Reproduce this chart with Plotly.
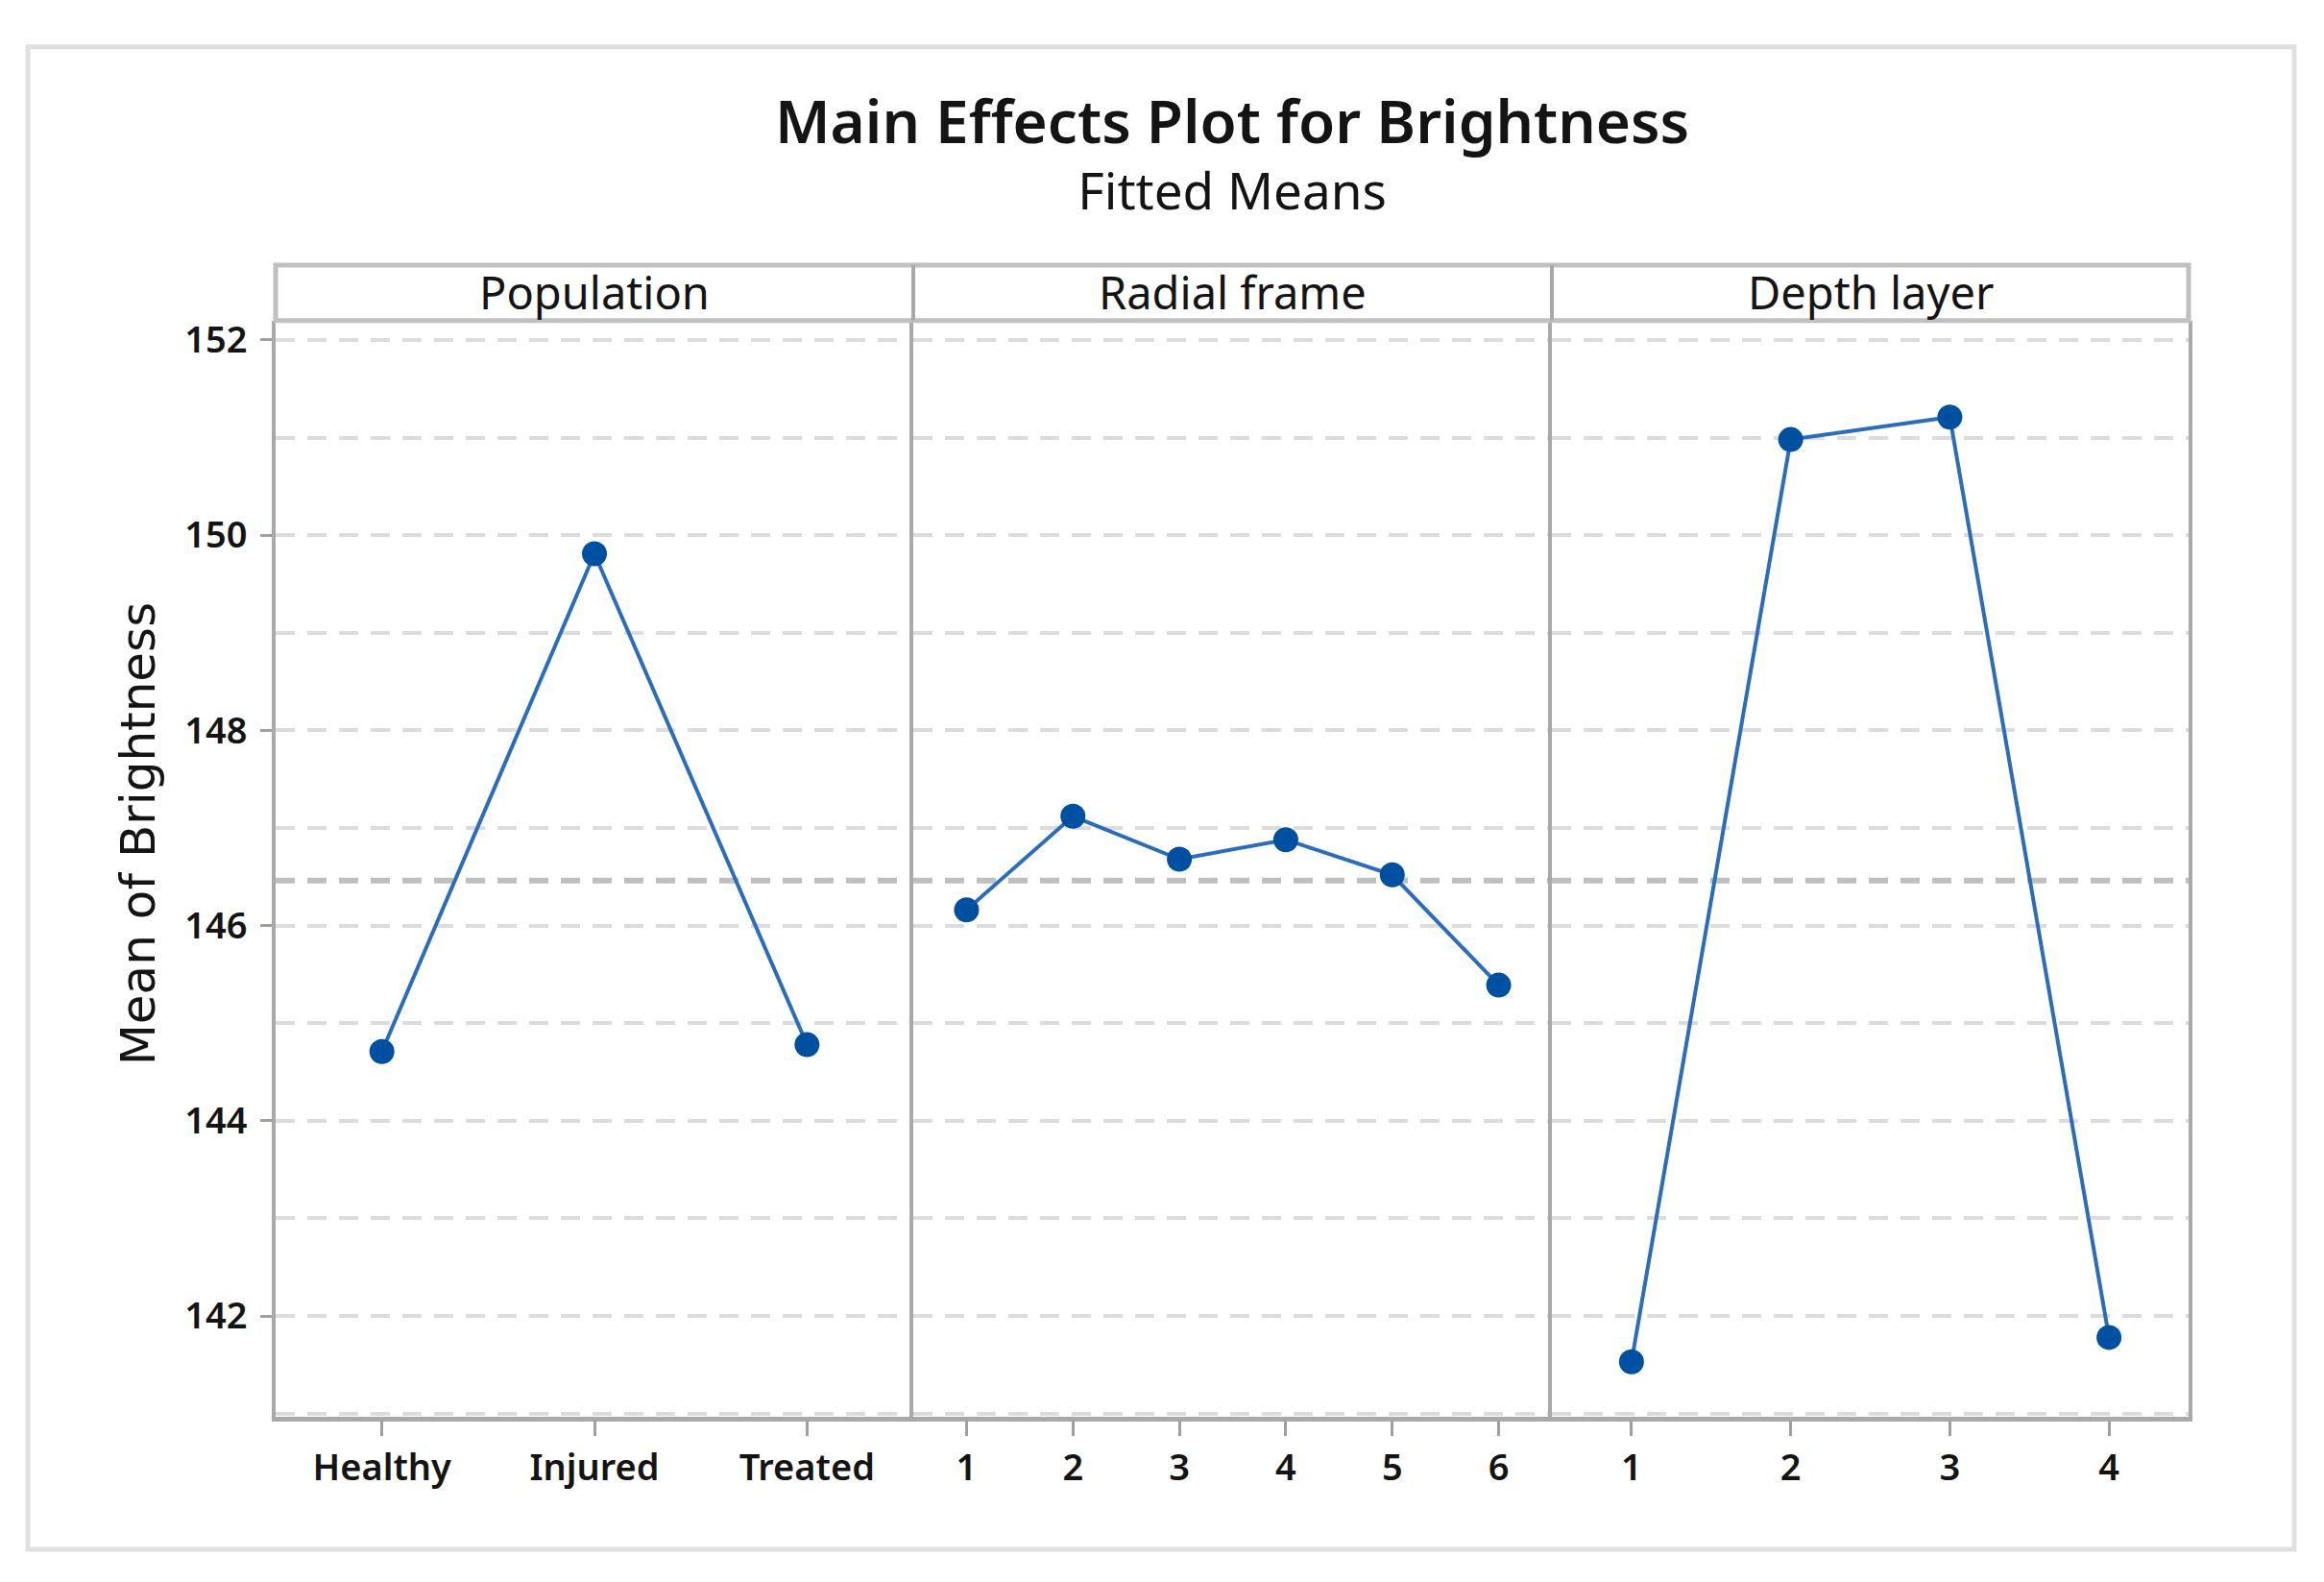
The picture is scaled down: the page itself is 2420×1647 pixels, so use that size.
import plotly.graph_objects as go

# ---- data ----
population_levels = ["Healthy", "Injured", "Treated"]
population_means = [144.71, 149.81, 144.78]
radial_levels = ["1", "2", "3", "4", "5", "6"]
radial_means = [146.16, 147.12, 146.68, 146.88, 146.52, 145.39]
depth_levels = ["1", "2", "3", "4"]
depth_means = [141.53, 150.98, 151.21, 141.78]
overall_mean = 146.46
panel_titles = ["Population", "Radial frame", "Depth layer"]
y_tick_values = [142, 144, 146, 148, 150, 152]
y_range = [140.97, 152.2]

title_text = "Main Effects Plot for Brightness"
subtitle_text = "Fitted Means"
y_title_text = "Mean of Brightness"

# ---- layout helpers (window pixels -> paper coords, body margin 8px) ----
WIN_W, WIN_H = 2420, 1647
M = 8
FW, FH = WIN_W - 2 * M, WIN_H - 2 * M


def px(x):
    return (x - M) / FW


def py(y):
    return 1 - (y - M) / FH


FONT = "Noto Sans, Open Sans, Liberation Sans, sans-serif"
TXT = "#141414"
LINE_BLUE = "#2a6dbd"
MARK_BLUE = "#0050a2"
FRAME = "#a9a9a9"
HEADER_LINE = "#c0c0c0"
GRID = "#dcdcdc"
MEAN_GRID = "#bfbfbf"
DASH = "20px,13px"

x_edges = [px(287), px(951), px(1616), px(2279)]
y_bottom = py(1474)
y_top = py(328)
y_header_top = py(270)

fig = go.Figure()
panels = [(population_levels, population_means),
          (radial_levels, radial_means),
          (depth_levels, depth_means)]

layout_axes = {}
for i, (levels, means) in enumerate(panels):
    sfx = "" if i == 0 else str(i + 1)
    fig.add_trace(go.Scatter(
        x=levels, y=means, mode="lines+markers",
        xaxis="x" + sfx, yaxis="y" + sfx,
        line=dict(color=LINE_BLUE, width=4),
        marker=dict(color=MARK_BLUE, size=26, line=dict(width=0)),
        showlegend=False, hoverinfo="x+y",
    ))
    layout_axes["xaxis" + sfx] = dict(
        domain=[x_edges[i], x_edges[i + 1]],
        anchor="y" + sfx,
        type="category",
        categoryorder="array", categoryarray=levels,
        range=[-0.5, len(levels) - 0.5],
        showline=True, linecolor=FRAME, linewidth=4.5,
        ticks="outside", ticklen=16, tickwidth=2.5, tickcolor="#a0a0a0",
        tickfont=dict(family=FONT, size=38, color=TXT, weight=600),
        ticklabelstandoff=0,
        showgrid=False, zeroline=False, fixedrange=True,
    )
    layout_axes["yaxis" + sfx] = dict(
        domain=[y_bottom, y_top],
        anchor="x" + sfx,
        range=y_range,
        tickvals=y_tick_values,
        showticklabels=(i == 0),
        ticks="outside" if i == 0 else "",
        ticklen=12, tickwidth=2.5, tickcolor="#a0a0a0",
        tickfont=dict(family=FONT, size=38, color=TXT, weight=600),
        ticklabelstandoff=6,
        showgrid=True, gridcolor=GRID, gridwidth=3.5, griddash=DASH,
        minor=dict(tick0=141, dtick=1, showgrid=True, gridcolor=GRID,
                   gridwidth=3.5, griddash=DASH, ticks=""),
        showline=True, linecolor=FRAME, linewidth=4,
        mirror=(i == 2),
        zeroline=False, fixedrange=True,
    )
    if i > 0:
        layout_axes["yaxis" + sfx]["matches"] = "y"
    # overall mean reference line
    fig.add_shape(type="line", xref="x" + sfx + " domain", yref="y" + sfx,
                  x0=0, x1=1, y0=overall_mean, y1=overall_mean,
                  line=dict(color=MEAN_GRID, width=6, dash=DASH),
                  layer="below")
    # header label
    fig.add_annotation(text=panel_titles[i], xref="x" + sfx + " domain", yref="paper",
                       x=0.5, y=py(298), yanchor="middle",
                       showarrow=False,
                       font=dict(family=FONT, size=47, color=TXT))

# header strip (box + dividers)
fig.add_shape(type="rect", xref="paper", yref="paper",
              x0=x_edges[0], x1=x_edges[3], y0=y_top, y1=y_header_top,
              line=dict(color=HEADER_LINE, width=5), fillcolor="rgba(0,0,0,0)")
for xe in x_edges[1:3]:
    fig.add_shape(type="line", xref="paper", yref="paper",
                  x0=xe, x1=xe, y0=y_top, y1=y_header_top,
                  line=dict(color=FRAME, width=4))
# outer light border
fig.add_shape(type="rect", xref="paper", yref="paper",
              x0=px(29), x1=px(2389), y0=py(1613), y1=py(42),
              line=dict(color="#e0e0e0", width=5), fillcolor="rgba(0,0,0,0)",
              layer="below")

# title + subtitle as one two-line text
x_mid = (x_edges[0] + x_edges[3]) / 2
fig.add_annotation(
    text=("<span style='font-size:62px;font-weight:600'>" + title_text + "</span>"
          "<br>" + subtitle_text),
    xref="paper", yref="paper",
    x=x_mid, y=py(152), yanchor="middle", align="center",
    showarrow=False,
    font=dict(family=FONT, size=53, color=TXT))
fig.add_annotation(text=y_title_text, xref="paper", yref="paper",
                   x=px(144), y=py(865), xanchor="center", yanchor="middle",
                   textangle=-90, showarrow=False,
                   font=dict(family="DejaVu Sans, Verdana, sans-serif", size=50, color=TXT))

fig.update_layout(
    width=FW, height=FH, autosize=False,
    margin=dict(l=0, r=0, t=0, b=0),
    paper_bgcolor="white", plot_bgcolor="white",
    showlegend=False,
    **layout_axes,
)

fig.write_html("out.html")
